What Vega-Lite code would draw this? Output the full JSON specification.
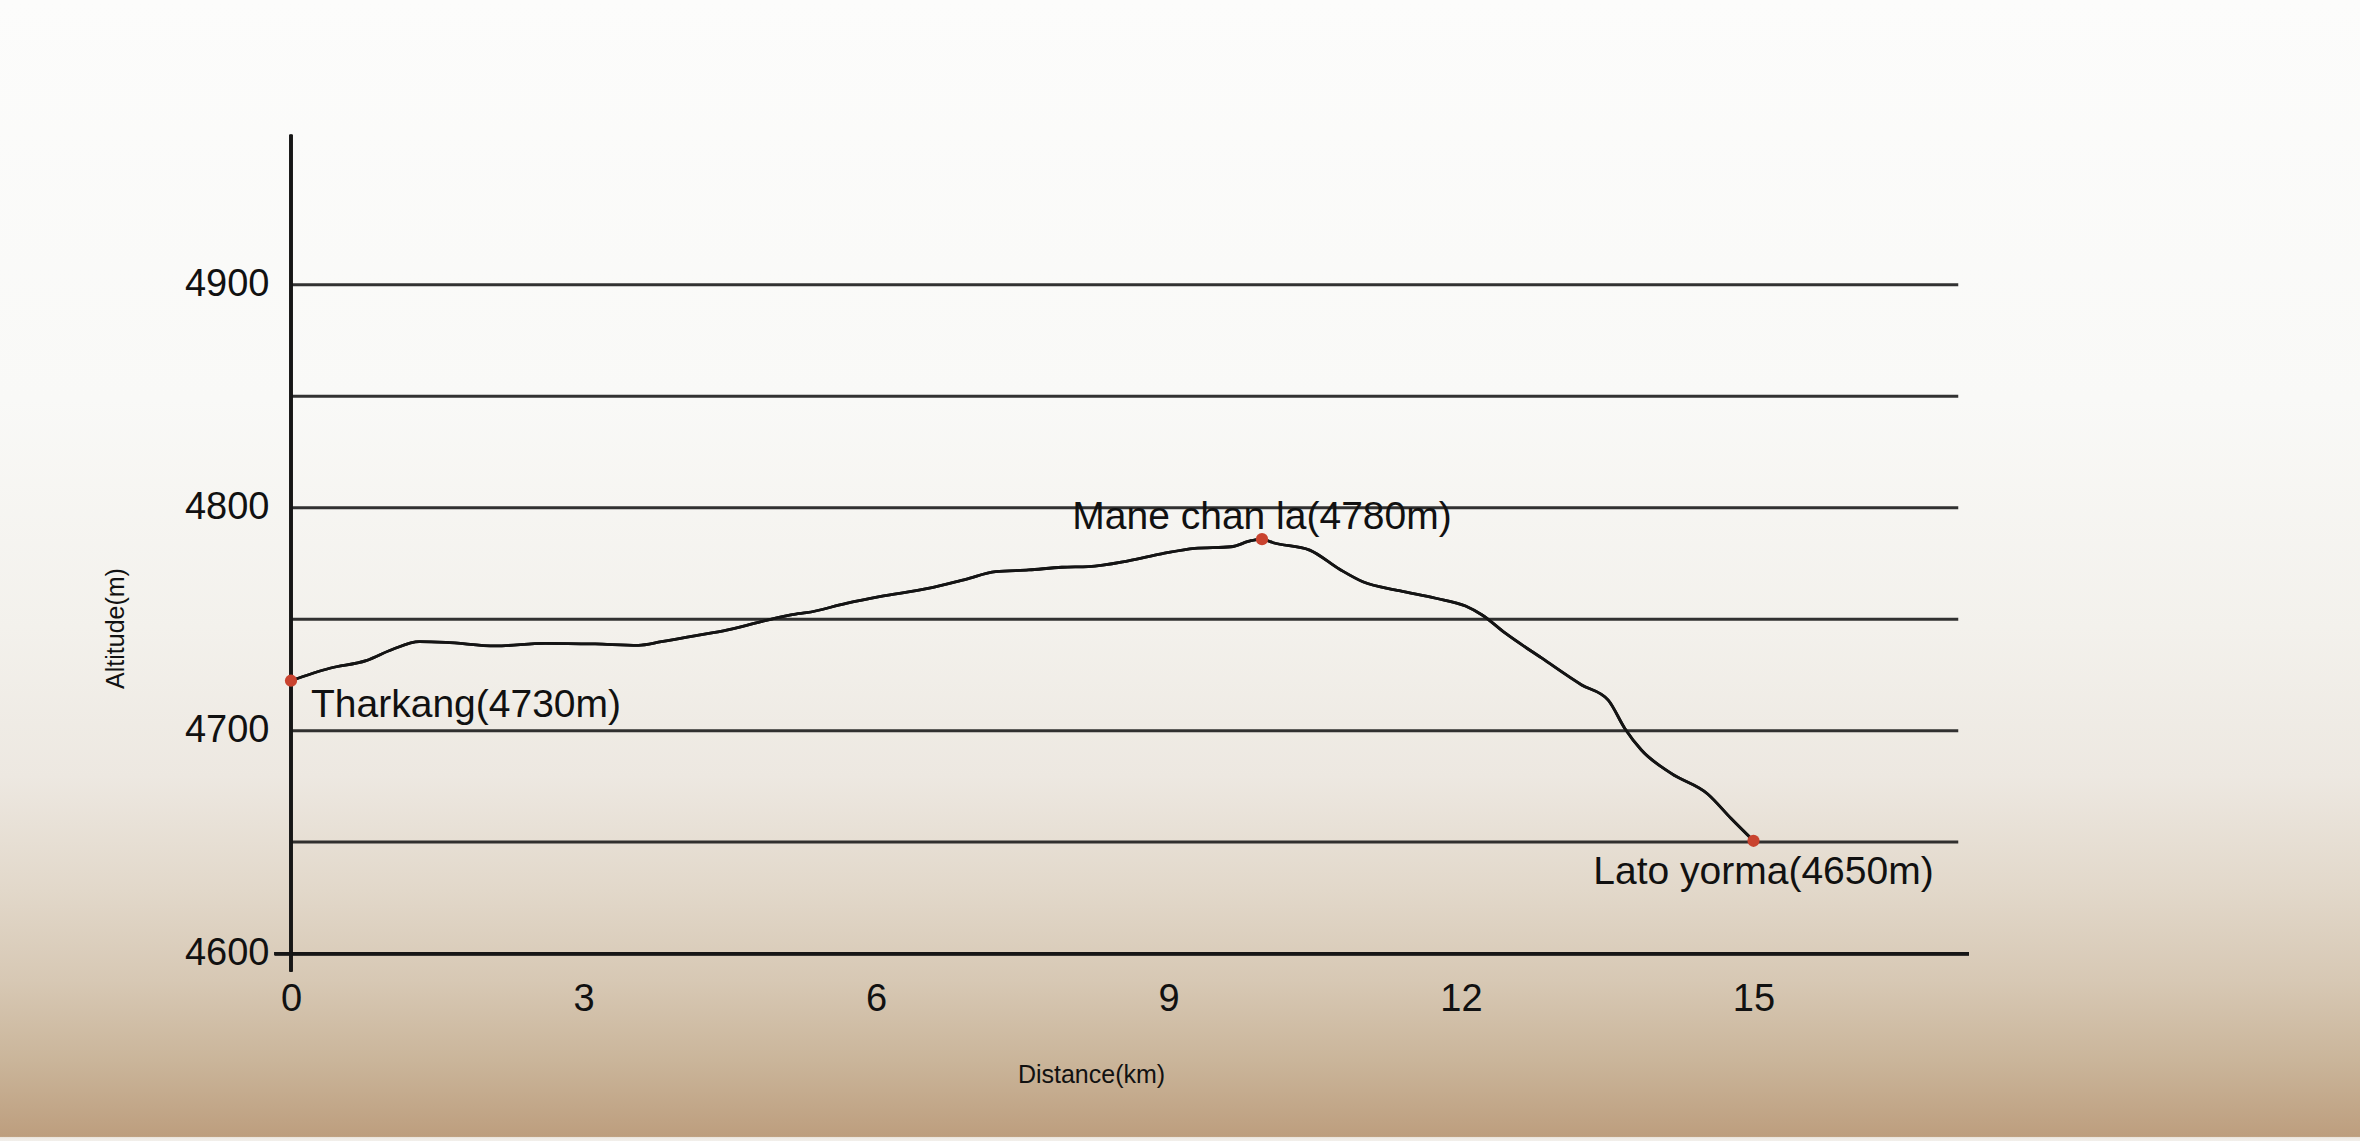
{
  "$schema": "https://vega.github.io/schema/vega-lite/v6.json",
  "width": 2360,
  "height": 1141,
  "autosize": {"type": "none"},
  "padding": 0,
  "background": "#f4f1ec",
  "config": {
    "font": "Liberation Sans",
    "view": {
      "stroke": null,
      "fill": {
        "gradient": "linear",
        "x1": 0, "y1": 0, "x2": 0, "y2": 1,
        "stops": [
          {"offset": 0, "color": "#fcfcfb"},
          {"offset": 0.35, "color": "#f9f9f7"},
          {"offset": 0.55, "color": "#f3f1ec"},
          {"offset": 0.68, "color": "#ede8e1"},
          {"offset": 0.78, "color": "#e2d8ca"},
          {"offset": 0.86, "color": "#d7c8b4"},
          {"offset": 0.93, "color": "#cab59a"},
          {"offset": 0.996, "color": "#bd9e7e"},
          {"offset": 0.997, "color": "#efeae4"},
          {"offset": 1, "color": "#f2efeb"}
        ]
      }
    }
  },
  "datasets": {
    "profile": [
      {"dist": 0, "alt": 4722.4},
      {"dist": 0.398, "alt": 4728.0},
      {"dist": 0.771, "alt": 4731.4},
      {"dist": 1.044, "alt": 4736.5},
      {"dist": 1.316, "alt": 4739.9},
      {"dist": 1.588, "alt": 4739.6},
      {"dist": 2.098, "alt": 4738.0},
      {"dist": 2.608, "alt": 4739.2},
      {"dist": 3.119, "alt": 4738.9},
      {"dist": 3.561, "alt": 4738.3},
      {"dist": 3.799, "alt": 4739.9},
      {"dist": 4.139, "alt": 4742.5},
      {"dist": 4.48, "alt": 4745.2},
      {"dist": 4.821, "alt": 4748.9},
      {"dist": 5.177, "alt": 4752.3},
      {"dist": 5.287, "alt": 4752.9},
      {"dist": 5.695, "alt": 4757.1},
      {"dist": 6.036, "alt": 4760.1},
      {"dist": 6.547, "alt": 4763.9},
      {"dist": 6.92, "alt": 4767.9},
      {"dist": 7.227, "alt": 4771.3},
      {"dist": 7.567, "alt": 4772.1},
      {"dist": 7.907, "alt": 4773.3},
      {"dist": 8.179, "alt": 4773.6},
      {"dist": 8.588, "alt": 4776.2},
      {"dist": 8.927, "alt": 4779.3},
      {"dist": 9.268, "alt": 4781.8},
      {"dist": 9.641, "alt": 4782.5},
      {"dist": 9.846, "alt": 4785.2},
      {"dist": 9.959, "alt": 4785.9},
      {"dist": 10.074, "alt": 4784.3},
      {"dist": 10.448, "alt": 4781.0},
      {"dist": 10.755, "alt": 4772.4},
      {"dist": 10.993, "alt": 4766.8},
      {"dist": 11.367, "alt": 4762.8},
      {"dist": 11.741, "alt": 4759.4},
      {"dist": 12.047, "alt": 4755.9},
      {"dist": 12.217, "alt": 4751.9},
      {"dist": 12.455, "alt": 4743.7},
      {"dist": 12.83, "alt": 4732.5},
      {"dist": 13.238, "alt": 4720.5},
      {"dist": 13.51, "alt": 4713.7},
      {"dist": 13.68, "alt": 4701.0},
      {"dist": 13.85, "alt": 4691.3},
      {"dist": 14.156, "alt": 4680.8},
      {"dist": 14.53, "alt": 4671.6},
      {"dist": 14.768, "alt": 4660.7},
      {"dist": 15.0, "alt": 4650.6}
    ],
    "places": [
      {"name": "Tharkang", "label": "Tharkang(4730m)", "dist": 0, "alt": 4722.4},
      {"name": "Mane chan la", "label": "Mane chan la(4780m)", "dist": 9.959, "alt": 4785.9},
      {"name": "Lato yorma", "label": "Lato yorma(4650m)", "dist": 15.0, "alt": 4650.6}
    ],
    "grid": [
      {"alt": 4650}, {"alt": 4700}, {"alt": 4750}, {"alt": 4800}, {"alt": 4850}, {"alt": 4900}
    ]
  },
  "layer": [
    {
      "data": {"name": "profile"},
      "mark": {"type": "line", "color": "#141414", "strokeWidth": 2.8, "interpolate": "monotone"},
      "encoding": {
        "x": {
          "field": "dist", "type": "quantitative",
          "scale": {"domain": [-2.9846, 21.2205], "nice": false, "zero": false},
          "axis": {
            "values": [0, 3, 6, 9, 12, 15],
            "format": "d",
            "offset": -187.5,
            "domain": false, "ticks": false, "tickSize": 0, "grid": false,
            "labelFontSize": 38, "labelColor": "#111111", "labelFont": "Liberation Sans",
            "labelPadding": 27, "labelBaseline": "top", "labelOverlap": false, "labelFlush": false,
            "title": "Distance(km)", "titleFontSize": 25, "titleFontWeight": "normal", "titleColor": "#111111",
            "titleX": 1091, "titleY": 129, "titleAlign": "center", "titleBaseline": "alphabetic", "titleAnchor": null
          }
        },
        "y": {
          "field": "alt", "type": "quantitative",
          "scale": {"domain": [4515.9, 5027.8], "nice": false, "zero": false},
          "axis": {
            "values": [4600, 4700, 4800, 4900],
            "format": "d",
            "offset": -291,
            "domain": false, "ticks": false, "tickSize": 0, "grid": false,
            "labelFontSize": 38, "labelColor": "#111111", "labelFont": "Liberation Sans",
            "labelPadding": 22, "labelBaseline": "middle", "labelAlign": "right", "labelOverlap": false, "labelFlush": false,
            "title": "Altitude(m)", "titleFontSize": 25, "titleFontWeight": "normal", "titleColor": "#111111",
            "titleX": -176, "titleY": 628, "titleAngle": -90, "titleAlign": "center", "titleBaseline": "middle", "titleAnchor": null
          }
        }
      }
    },
    {
      "data": {"name": "grid"},
      "mark": {"type": "rule", "color": "#1c1c1c", "strokeWidth": 3, "opacity": 0.9},
      "encoding": {
        "y": {"field": "alt", "type": "quantitative"},
        "x": {"datum": 0, "type": "quantitative"},
        "x2": {"datum": 17.1}
      }
    },
    {
      "data": {"name": "grid"},
      "mark": {"type": "rule", "color": "#161616", "strokeWidth": 3.2},
      "encoding": {
        "y": {"datum": 4600, "type": "quantitative"},
        "x": {"datum": -0.168, "type": "quantitative"},
        "x2": {"datum": 17.21}
      }
    },
    {
      "data": {"name": "grid"},
      "mark": {"type": "rule", "color": "#161616", "strokeWidth": 2.8},
      "encoding": {
        "x": {"datum": 0, "type": "quantitative"},
        "y": {"datum": 4591.9, "type": "quantitative"},
        "y2": {"datum": 4967.3}
      }
    },
    {
      "data": {"name": "profile"},
      "mark": {"type": "line", "color": "#141414", "strokeWidth": 2.8, "interpolate": "monotone"},
      "encoding": {
        "x": {"field": "dist", "type": "quantitative"},
        "y": {"field": "alt", "type": "quantitative"}
      }
    },
    {
      "data": {"name": "places"},
      "mark": {"type": "circle", "color": "#c9432f", "opacity": 1, "size": 150},
      "encoding": {
        "x": {"field": "dist", "type": "quantitative"},
        "y": {"field": "alt", "type": "quantitative"}
      }
    },
    {
      "data": {"name": "places"},
      "transform": [{"filter": "datum.name === 'Tharkang'"}],
      "mark": {"type": "text", "align": "left", "baseline": "alphabetic", "dx": 20, "dy": 36, "fontSize": 39, "font": "Liberation Sans", "color": "#111111"},
      "encoding": {
        "x": {"field": "dist", "type": "quantitative"},
        "y": {"field": "alt", "type": "quantitative"},
        "text": {"field": "label", "type": "nominal"}
      }
    },
    {
      "data": {"name": "places"},
      "transform": [{"filter": "datum.name === 'Mane chan la'"}],
      "mark": {"type": "text", "align": "center", "baseline": "alphabetic", "dx": 0, "dy": -10, "fontSize": 39, "font": "Liberation Sans", "color": "#111111"},
      "encoding": {
        "x": {"field": "dist", "type": "quantitative"},
        "y": {"field": "alt", "type": "quantitative"},
        "text": {"field": "label", "type": "nominal"}
      }
    },
    {
      "data": {"name": "places"},
      "transform": [{"filter": "datum.name === 'Lato yorma'"}],
      "mark": {"type": "text", "align": "center", "baseline": "alphabetic", "dx": 10, "dy": 43, "fontSize": 39, "font": "Liberation Sans", "color": "#111111"},
      "encoding": {
        "x": {"field": "dist", "type": "quantitative"},
        "y": {"field": "alt", "type": "quantitative"},
        "text": {"field": "label", "type": "nominal"}
      }
    }
  ]
}
